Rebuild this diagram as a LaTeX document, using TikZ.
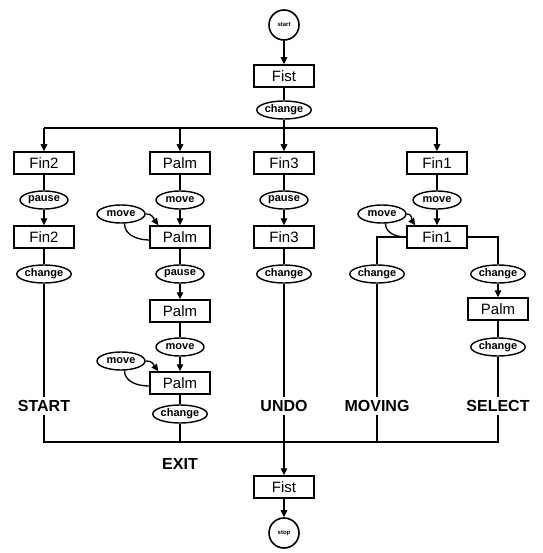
\documentclass[tikz,border=0pt]{standalone}
\usepackage{fontspec}
\setmainfont{Liberation Sans}
\usetikzlibrary{arrows.meta, positioning, shapes.geometric}

\begin{document}
\begin{tikzpicture}[
    x=1pt, y=1pt,
    state/.style={draw, line width=1.5pt, minimum width=60pt, minimum height=22pt, inner sep=1pt, font=\fontsize{15}{17}\selectfont},
    gesture/.style={draw, ellipse, line width=1.4pt, minimum width=48pt, minimum height=18pt, inner sep=0pt, font=\bfseries\fontsize{11}{12}\selectfont},
    terminal/.style={draw, circle, line width=1.6pt, minimum size=30pt, inner sep=0pt, font=\bfseries\fontsize{6}{6}\selectfont},
    mode/.style={font=\bfseries\fontsize{16}{18}\selectfont, inner sep=3pt},
    line/.style={line width=1.3pt},
    arrow/.style={-{Triangle[length=7pt,width=6.5pt]}, line width=1.3pt}
]
\useasboundingbox (0,0) rectangle (542,-553);

% Anfang
\node[terminal] (start) at (284,-25) {start};
\node[state] (fist) at (284,-76) {Fist};
\node[gesture] (chg0) at (284,-110) {change};
\coordinate (top) at (284,-128);

% erste Zeile
\node[state] (fin2a) at (44,-163) {Fin2};
\node[state] (palma) at (180,-163) {Palm};
\node[state] (fin3a) at (284,-163) {Fin3};
\node[state] (fin1a) at (437,-163) {Fin1};

\node[gesture] (pause1) at (44,-200) {pause};
\node[gesture] (move2) at (180,-200) {move};
\node[gesture] (pause3) at (284,-200) {pause};
\node[gesture] (move4) at (437,-200) {move};
\node[gesture] (side2) at (121,-214) {move};
\node[gesture] (side4) at (382,-214) {move};

% zweite Zeile
\node[state] (fin2b) at (44,-237) {Fin2};
\node[state] (palmb) at (180,-237) {Palm};
\node[state] (fin3b) at (284,-237) {Fin3};
\node[state] (fin1b) at (437,-237) {Fin1};

\node[gesture] (chg1) at (44,-274) {change};
\node[gesture] (pause2) at (180,-274) {pause};
\node[gesture] (chg3) at (284,-274) {change};
\node[gesture] (chg4l) at (377,-274) {change};
\node[gesture] (chg4r) at (498,-274) {change};

% Palm-Spalte und SELECT-Zweig
\node[state] (palmc) at (180,-311) {Palm};
\node[state] (palm4) at (498,-309) {Palm};
\node[gesture] (move2b) at (180,-347) {move};
\node[gesture] (side2b) at (121,-361) {move};
\node[gesture] (chg4b) at (498,-347) {change};
\node[state] (palmd) at (180,-383) {Palm};
\node[gesture] (chg2) at (180,-414) {change};

% Modi
\node[mode] (mStart) at (44,-406) {START};
\node[mode] (mUndo) at (284,-406) {UNDO};
\node[mode] (mMoving) at (377,-406) {MOVING};
\node[mode] (mSelect) at (498,-406) {SELECT};
\node[mode] (mExit) at (180,-464) {EXIT};
\coordinate (bot) at (284,-442);

% Ende
\node[state] (fistend) at (284,-487) {Fist};
\node[terminal] (stop) at (284,-533) {stop};

% Verbindungen oben
\draw[arrow] (start) -- (fist);
\draw[line] (fist) -- (chg0);
\draw[line] (chg0) -- (top);
\draw[line] (fin2a.north |- top) -- (fin1a.north |- top);
\foreach \n in {fin2a, palma, fin3a, fin1a}
    \draw[arrow] (\n.north |- top) -- (\n);

% Spalte Fin2
\draw[line] (fin2a) -- (pause1);
\draw[arrow] (pause1) -- (fin2b);
\draw[line] (fin2b) -- (chg1);
\draw[line] (chg1) -- (mStart);

% Spalte Palm
\draw[line] (palma) -- (move2);
\draw[arrow] (move2) -- (palmb);
\draw[arrow] (side2.east) to[out=10,in=125] ([xshift=9pt]palmb.north west);
\draw[line] (side2.-70) to[out=-90,in=180] ([yshift=-3pt]palmb.west);
\draw[line] (palmb) -- (pause2);
\draw[arrow] (pause2) -- (palmc);
\draw[line] (palmc) -- (move2b);
\draw[arrow] (move2b) -- (palmd);
\draw[arrow] (side2b.east) to[out=10,in=125] ([xshift=9pt]palmd.north west);
\draw[line] (side2b.-70) to[out=-90,in=180] ([yshift=-3pt]palmd.west);
\draw[line] (palmd) -- (chg2);
\draw[line] (chg2) -- (chg2 |- bot);

% Spalte Fin3
\draw[line] (fin3a) -- (pause3);
\draw[arrow] (pause3) -- (fin3b);
\draw[line] (fin3b) -- (chg3);
\draw[line] (chg3) -- (mUndo);
\draw[line] (mUndo) -- (bot);

% Spalte Fin1
\draw[line] (fin1a) -- (move4);
\draw[arrow] (move4) -- (fin1b);
\draw[arrow] (side4.east) to[out=10,in=125] ([xshift=9pt]fin1b.north west);
\draw[line] (side4.-70) to[out=-90,in=180] (fin1b.west);
\draw[line] (fin1b.west) -| (chg4l);
\draw[line] (fin1b.east) -| (chg4r);
\draw[line] (chg4l) -- (mMoving);
\draw[line] (mMoving) -- (mMoving |- bot);
\draw[arrow] (chg4r) -- (palm4);
\draw[line] (palm4) -- (chg4b);
\draw[line] (chg4b) -- (mSelect);

% Sammelleiste unten
\draw[line] (mStart) |- (bot) -| (mSelect);
\draw[arrow] (bot) -- (fistend);
\draw[arrow] (fistend) -- (stop);

\end{tikzpicture}
\end{document}
